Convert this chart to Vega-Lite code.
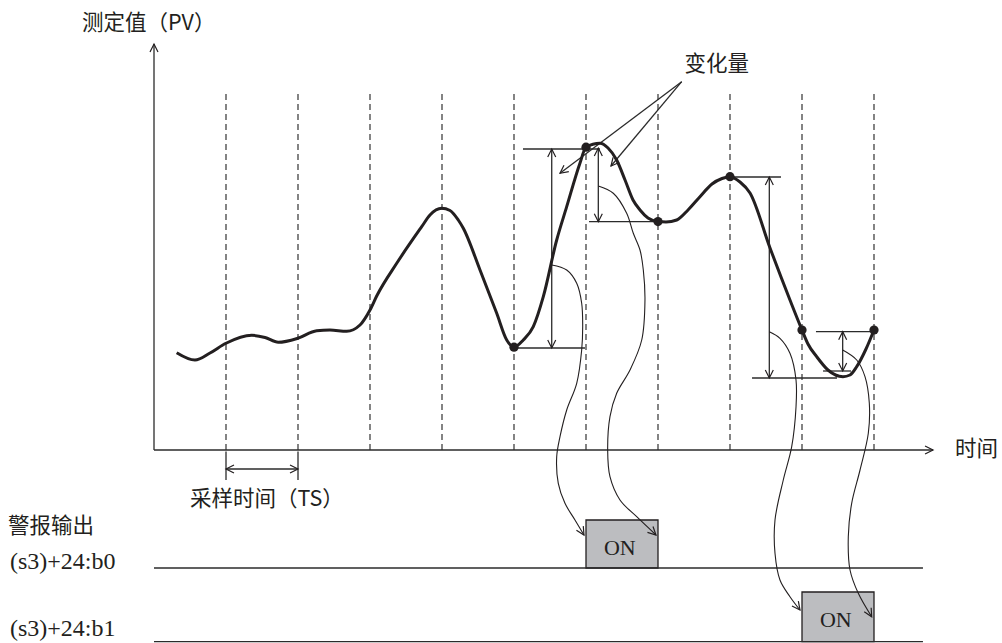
{
  "$schema": "https://vega.github.io/schema/vega-lite/v6.json",
  "width": 1002,
  "height": 643,
  "padding": 0,
  "autosize": {"type": "none"},
  "background": "white",
  "config": {"view": {"stroke": null}},
  "datasets": {
    "curve": [
      {"t": 0.315, "v": 24.33}, {"t": 0.569, "v": 22.5}, {"t": 0.778, "v": 24.25}, {"t": 1.0, "v": 26.68},
      {"t": 1.357, "v": 28.68}, {"t": 1.542, "v": 28.13}, {"t": 1.726, "v": 26.93}, {"t": 1.996, "v": 27.93},
      {"t": 2.26, "v": 29.83}, {"t": 2.444, "v": 30.0}, {"t": 2.676, "v": 29.68}, {"t": 2.861, "v": 31.25},
      {"t": 3.0, "v": 35.0}, {"t": 3.093, "v": 38.5}, {"t": 3.371, "v": 46.68}, {"t": 3.718, "v": 55.83},
      {"t": 3.833, "v": 58.75}, {"t": 3.996, "v": 60.43}, {"t": 4.111, "v": 59.88}, {"t": 4.226, "v": 57.5},
      {"t": 4.296, "v": 55.43}, {"t": 4.528, "v": 45.0}, {"t": 4.76, "v": 34.18}, {"t": 4.899, "v": 27.5},
      {"t": 5.0, "v": 25.7}, {"t": 5.129, "v": 27.5}, {"t": 5.268, "v": 30.83}, {"t": 5.407, "v": 38.33},
      {"t": 5.593, "v": 52.5}, {"t": 5.732, "v": 60.83}, {"t": 5.917, "v": 71.75}, {"t": 6.0, "v": 75.7},
      {"t": 6.194, "v": 76.68}, {"t": 6.306, "v": 75.5}, {"t": 6.426, "v": 72.5}, {"t": 6.542, "v": 67.5},
      {"t": 6.653, "v": 62.5}, {"t": 6.75, "v": 60.0}, {"t": 6.861, "v": 58.0}, {"t": 7.0, "v": 57.1},
      {"t": 7.111, "v": 57.0}, {"t": 7.26, "v": 57.5}, {"t": 7.417, "v": 60.0}, {"t": 7.583, "v": 63.33},
      {"t": 7.75, "v": 66.5}, {"t": 7.889, "v": 67.88}, {"t": 8.0, "v": 68.33}, {"t": 8.139, "v": 67.0},
      {"t": 8.278, "v": 64.25}, {"t": 8.556, "v": 50.5}, {"t": 8.833, "v": 37.5}, {"t": 9.0, "v": 30.0},
      {"t": 9.083, "v": 26.5}, {"t": 9.204, "v": 23.33}, {"t": 9.361, "v": 20.0}, {"t": 9.569, "v": 18.33},
      {"t": 9.667, "v": 18.75}, {"t": 9.76, "v": 20.83}, {"t": 9.889, "v": 25.25}, {"t": 10.0, "v": 30.0}
    ],
    "dots": [
      {"t": 5, "v": 25.7}, {"t": 6, "v": 75.7}, {"t": 7, "v": 57.1},
      {"t": 8, "v": 68.33}, {"t": 9, "v": 30.0}, {"t": 10, "v": 30.0}
    ],
    "samples": [
      {"t": 1, "v": 0, "v2": 89}, {"t": 2, "v": 0, "v2": 89}, {"t": 3, "v": 0, "v2": 89}, {"t": 4, "v": 0, "v2": 89},
      {"t": 5, "v": 0, "v2": 89}, {"t": 6, "v": 0, "v2": 89}, {"t": 7, "v": 0, "v2": 89}, {"t": 8, "v": 0, "v2": 89},
      {"t": 9, "v": 0, "v2": 89}, {"t": 10, "v": 0, "v2": 89}
    ],
    "segments": [
      {"t": 0, "v": 0, "t2": 0, "v2": 101.5},
      {"t": 0, "v": 0, "t2": 10.82, "v2": 0},
      {"t": 5.125, "v": 75.25, "t2": 6.194, "v2": 75.25},
      {"t": 4.986, "v": 25.5, "t2": 5.986, "v2": 25.5},
      {"t": 6.042, "v": 57.08, "t2": 6.986, "v2": 57.08},
      {"t": 8.0, "v": 68.25, "t2": 8.708, "v2": 68.25},
      {"t": 8.306, "v": 18.0, "t2": 9.486, "v2": 18.0},
      {"t": 9.194, "v": 29.58, "t2": 10.0, "v2": 29.58},
      {"t": 9.292, "v": 19.75, "t2": 9.681, "v2": 19.75},
      {"t": 5.524, "v": 75.25, "t2": 5.524, "v2": 25.5},
      {"t": 6.171, "v": 75.5, "t2": 6.171, "v2": 57.08},
      {"t": 8.546, "v": 68.25, "t2": 8.546, "v2": 18.0},
      {"t": 9.565, "v": 29.58, "t2": 9.565, "v2": 19.75},
      {"t": 1, "v": -4.75, "t2": 2, "v2": -4.75},
      {"t": 1, "v": -0.4, "t2": 1, "v2": -7.5},
      {"t": 2, "v": -0.4, "t2": 2, "v2": -7.5},
      {"t": 7.329, "v": 92.08, "t2": 5.639, "v2": 69.18},
      {"t": 7.329, "v": 92.08, "t2": 6.347, "v2": 71.0},
      {"t": 0, "v": -29.5, "t2": 10.68, "v2": -29.5},
      {"t": 0, "v": -47.9, "t2": 10.68, "v2": -47.9}
    ],
    "boxes": [
      {"t": 6, "t2": 7, "v": -29.5, "v2": -17.5},
      {"t": 9, "t2": 10, "v": -47.9, "v2": -35.5}
    ],
    "connectors": [
      {"id": "c1", "i": 0, "t": 5.524, "v": 46.25}, {"id": "c1", "i": 1, "t": 5.732, "v": 45.0},
      {"id": "c1", "i": 2, "t": 5.871, "v": 41.68}, {"id": "c1", "i": 3, "t": 5.94, "v": 36.68},
      {"id": "c1", "i": 4, "t": 5.954, "v": 30.83}, {"id": "c1", "i": 5, "t": 5.94, "v": 25.0},
      {"id": "c1", "i": 6, "t": 5.871, "v": 16.68}, {"id": "c1", "i": 7, "t": 5.732, "v": 10.0},
      {"id": "c1", "i": 8, "t": 5.639, "v": 3.33}, {"id": "c1", "i": 9, "t": 5.593, "v": -1.68},
      {"id": "c1", "i": 10, "t": 5.615, "v": -8.33}, {"id": "c1", "i": 11, "t": 5.708, "v": -13.33},
      {"id": "c1", "i": 12, "t": 5.847, "v": -17.5}, {"id": "c1", "i": 13, "t": 5.972, "v": -21.25},
      {"id": "c2", "i": 0, "t": 6.171, "v": 66.0}, {"id": "c2", "i": 1, "t": 6.379, "v": 64.18},
      {"id": "c2", "i": 2, "t": 6.565, "v": 59.18}, {"id": "c2", "i": 3, "t": 6.657, "v": 54.18},
      {"id": "c2", "i": 4, "t": 6.75, "v": 50.0}, {"id": "c2", "i": 5, "t": 6.796, "v": 45.0},
      {"id": "c2", "i": 6, "t": 6.819, "v": 37.5}, {"id": "c2", "i": 7, "t": 6.774, "v": 27.5},
      {"id": "c2", "i": 8, "t": 6.611, "v": 20.0}, {"id": "c2", "i": 9, "t": 6.426, "v": 14.18},
      {"id": "c2", "i": 10, "t": 6.333, "v": 8.33}, {"id": "c2", "i": 11, "t": 6.301, "v": 0.0},
      {"id": "c2", "i": 12, "t": 6.333, "v": -6.68}, {"id": "c2", "i": 13, "t": 6.472, "v": -12.5},
      {"id": "c2", "i": 14, "t": 6.704, "v": -16.68}, {"id": "c2", "i": 15, "t": 6.972, "v": -21.25},
      {"id": "c3", "i": 0, "t": 8.546, "v": 29.58}, {"id": "c3", "i": 1, "t": 8.694, "v": 27.93},
      {"id": "c3", "i": 2, "t": 8.833, "v": 24.18}, {"id": "c3", "i": 3, "t": 8.917, "v": 17.5},
      {"id": "c3", "i": 4, "t": 8.917, "v": 10.83}, {"id": "c3", "i": 5, "t": 8.857, "v": 0.83},
      {"id": "c3", "i": 6, "t": 8.74, "v": -7.5}, {"id": "c3", "i": 7, "t": 8.625, "v": -17.5},
      {"id": "c3", "i": 8, "t": 8.625, "v": -25.83}, {"id": "c3", "i": 9, "t": 8.694, "v": -32.5},
      {"id": "c3", "i": 10, "t": 8.833, "v": -36.68}, {"id": "c3", "i": 11, "t": 8.972, "v": -40.0},
      {"id": "c4", "i": 0, "t": 9.565, "v": 25.0}, {"id": "c4", "i": 1, "t": 9.76, "v": 22.5},
      {"id": "c4", "i": 2, "t": 9.875, "v": 18.33}, {"id": "c4", "i": 3, "t": 9.935, "v": 11.68},
      {"id": "c4", "i": 4, "t": 9.921, "v": 4.18}, {"id": "c4", "i": 5, "t": 9.806, "v": -5.0},
      {"id": "c4", "i": 6, "t": 9.69, "v": -13.33}, {"id": "c4", "i": 7, "t": 9.643, "v": -21.68},
      {"id": "c4", "i": 8, "t": 9.667, "v": -30.0}, {"id": "c4", "i": 9, "t": 9.782, "v": -35.83},
      {"id": "c4", "i": 10, "t": 9.968, "v": -41.68}
    ],
    "arrows": [
      {"t": 0, "v": 101.5, "dir": 0}, {"t": 10.82, "v": 0, "dir": 90},
      {"t": 1, "v": -4.75, "dir": 270}, {"t": 2, "v": -4.75, "dir": 90},
      {"t": 5.524, "v": 75.25, "dir": 0}, {"t": 5.524, "v": 25.5, "dir": 180},
      {"t": 6.171, "v": 75.5, "dir": 0}, {"t": 6.171, "v": 57.08, "dir": 180},
      {"t": 8.546, "v": 68.25, "dir": 0}, {"t": 8.546, "v": 18.0, "dir": 180},
      {"t": 9.565, "v": 29.58, "dir": 0}, {"t": 9.565, "v": 19.75, "dir": 180},
      {"t": 5.639, "v": 69.18, "dir": 233}, {"t": 6.347, "v": 71.0, "dir": 220},
      {"t": 5.972, "v": -21.25, "dir": 149}, {"t": 6.972, "v": -21.25, "dir": 134},
      {"t": 8.972, "v": -40.0, "dir": 143}, {"t": 9.968, "v": -41.68, "dir": 150}
    ],
    "labelsLeft": [
      {"label": "测定值（PV）", "t": -1.0, "v": 106.5},
      {"label": "时间", "t": 11.125, "v": 0},
      {"label": "警报输出", "t": -2.028, "v": -19.25}
    ],
    "labelsCenter": [
      {"label": "变化量", "t": 7.815, "v": 96.25},
      {"label": "采样时间（TS）", "t": 1.569, "v": -12.5}
    ],
    "signals": [
      {"label": "(s3)+24:b0", "t": -2.0, "v": -29.8},
      {"label": "(s3)+24:b1", "t": -2.0, "v": -46.6}
    ],
    "onLabels": [
      {"label": "ON", "t": 6.47, "v": -24.5},
      {"label": "ON", "t": 9.47, "v": -42.5}
    ]
  },
  "encoding": {
    "x": {"field": "t", "type": "quantitative", "axis": null, "scale": {"domain": [-2.1389, 11.7778], "nice": false, "zero": false}},
    "y": {"field": "v", "type": "quantitative", "axis": null, "scale": {"domain": [-48.25, 112.5], "nice": false, "zero": false}}
  },
  "layer": [
    {
      "data": {"name": "samples"},
      "mark": {"type": "rule", "color": "#333333", "strokeWidth": 1.2, "strokeDash": [6, 4]},
      "encoding": {"y2": {"field": "v2"}}
    },
    {
      "data": {"name": "boxes"},
      "mark": {"type": "rect", "fill": "#bcbdc0", "stroke": "#231f20", "strokeWidth": 1.3},
      "encoding": {"x2": {"field": "t2"}, "y2": {"field": "v2"}}
    },
    {
      "data": {"name": "segments"},
      "mark": {"type": "rule", "color": "#2b2b2b", "strokeWidth": 1.3},
      "encoding": {"x2": {"field": "t2"}, "y2": {"field": "v2"}}
    },
    {
      "data": {"name": "connectors"},
      "mark": {"type": "line", "color": "#231f20", "strokeWidth": 1.1, "interpolate": "catmull-rom"},
      "encoding": {"detail": {"field": "id"}, "order": {"field": "i", "type": "quantitative"}}
    },
    {
      "data": {"name": "curve"},
      "mark": {"type": "line", "color": "#231f20", "strokeWidth": 3, "interpolate": "monotone"}
    },
    {
      "data": {"name": "dots"},
      "mark": {"type": "point", "shape": "circle", "filled": true, "size": 85, "color": "#231f20", "opacity": 1}
    },
    {
      "data": {"name": "arrows"},
      "mark": {"type": "point", "shape": "M-0.5,1L0,0L0.5,1", "filled": false, "size": 256, "stroke": "#231f20", "strokeWidth": 1.2, "opacity": 1},
      "encoding": {"angle": {"field": "dir", "type": "quantitative", "scale": null}}
    },
    {
      "data": {"name": "labelsLeft"},
      "mark": {"type": "text", "align": "left", "baseline": "middle", "font": "Noto Sans CJK SC", "fontSize": 21.5, "color": "#231f20"},
      "encoding": {"text": {"field": "label"}}
    },
    {
      "data": {"name": "labelsCenter"},
      "mark": {"type": "text", "align": "center", "baseline": "middle", "font": "Noto Sans CJK SC", "fontSize": 21.5, "color": "#231f20"},
      "encoding": {"text": {"field": "label"}}
    },
    {
      "data": {"name": "signals"},
      "mark": {"type": "text", "align": "left", "baseline": "alphabetic", "font": "Liberation Serif", "fontSize": 24, "color": "#231f20"},
      "encoding": {"text": {"field": "label"}}
    },
    {
      "data": {"name": "onLabels"},
      "mark": {"type": "text", "align": "center", "baseline": "middle", "font": "Liberation Serif", "fontSize": 22, "color": "#231f20"},
      "encoding": {"text": {"field": "label"}}
    }
  ]
}
